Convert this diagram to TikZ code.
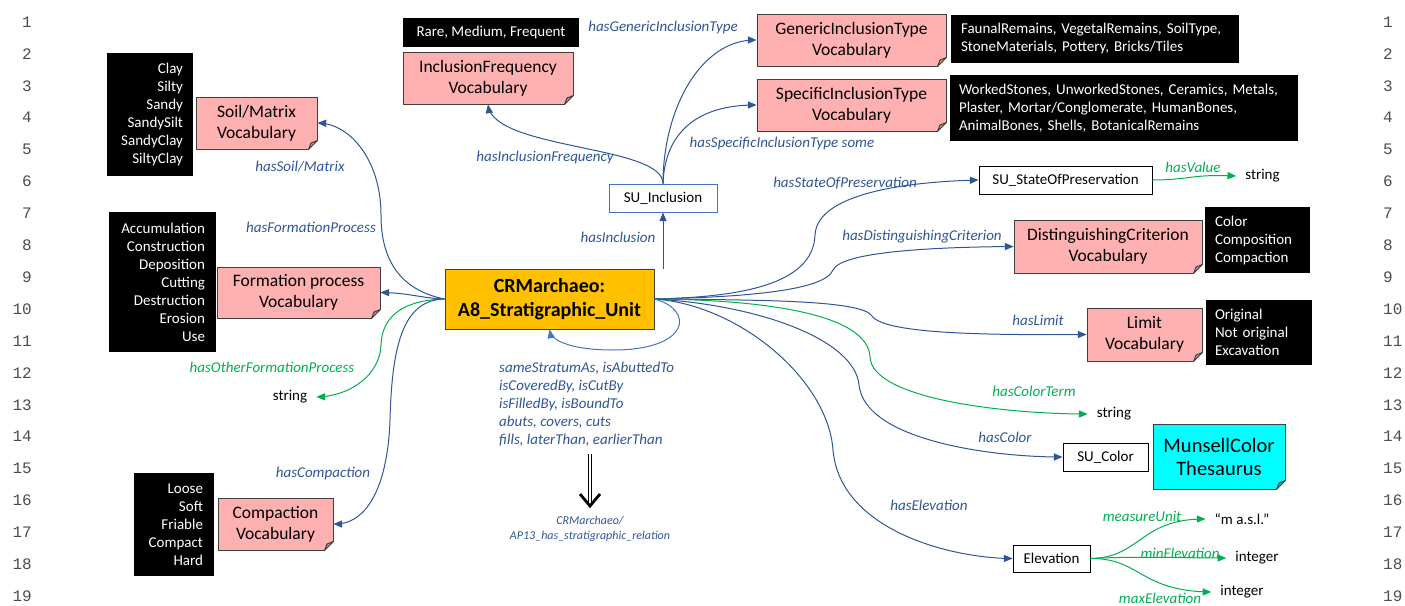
\documentclass[tikz,border=0pt]{standalone}
\usepackage{fontspec}
\setmainfont{Carlito}
\newfontfamily\linenofont{Liberation Mono}
\usepackage{color}
\usepackage{tikz}
\usetikzlibrary{arrows}

\definecolor{vocabpink}{RGB}{255,176,176}
\definecolor{foldpink}{RGB}{205,140,140}
\definecolor{unitorange}{RGB}{255,192,0}
\definecolor{propblue}{RGB}{47,85,151}
\definecolor{loopblue}{RGB}{68,114,196}
\definecolor{datagreen}{RGB}{0,176,80}
\definecolor{thescyan}{RGB}{0,255,255}
\definecolor{foldcyan}{RGB}{0,200,200}

\tikzset{
  vocab/.style={draw=black!75, fill=vocabpink, line width=1pt, align=center, inner sep=0pt,
    font=\fontsize{17.5}{21}\selectfont},
  terms/.style={fill=black, text=white, inner xsep=10pt, inner ysep=0pt,
    font=\fontsize{15}{18}\selectfont},
  classbox/.style={draw=black, fill=white, line width=1pt, inner sep=0pt,
    font=\fontsize{15}{18}\selectfont},
  literal/.style={inner xsep=9pt, inner ysep=2pt, font=\fontsize{15}{18}\selectfont},
  plabel/.style={text=propblue, inner sep=1pt, font=\fontsize{15}{18}\selectfont\itshape},
  dlabel/.style={text=datagreen, inner sep=1pt, font=\fontsize{15}{18}\selectfont\itshape},
  lineno/.style={text=black!70, inner sep=0pt, font=\fontsize{16}{18}\linenofont},
  prop/.style={propblue, line width=1pt, ->},
  dprop/.style={datagreen, line width=1pt, ->},
}

% folded corner of a vocabulary box
\newcommand{\foldcorner}[2]{%
  \fill[white] ([xshift=-9.5pt,yshift=-1pt]#1.south east) -- ([xshift=1pt,yshift=-1pt]#1.south east)
    -- ([xshift=1pt,yshift=9.5pt]#1.south east) -- cycle;
  \draw[black!75, line width=1pt, fill=#2, line join=round] ([xshift=-9pt]#1.south east)
    -- ([yshift=9pt]#1.south east) -- ([xshift=-6.5pt,yshift=6.5pt]#1.south east) -- cycle;
}

\begin{document}
\begin{tikzpicture}[x=1pt,y=-1pt]
\begin{scope}[>=triangle 45]

    \useasboundingbox (0,0) rectangle (1405,605);

    % line numbers
    \foreach \n in {1,...,19} {
        \node[lineno, anchor=east] (ll\n) at (32,{22+(\n-1)*31.9}) {\n};
        \node[lineno, anchor=west] (rl\n) at (1383,{22+(\n-1)*31.9}) {\n};
    }

    % the unit
    \node[draw=black!75, fill=unitorange, line width=1pt, align=center, inner sep=0pt,
        minimum width=209pt, minimum height=60pt, font=\fontsize{20}{24}\selectfont\bfseries]
        (main) at (549.5,299) {CRMarchaeo:\\A8\_Stratigraphic\_Unit};

    % left side
    \node[vocab, minimum width=121pt, minimum height=52pt] (soilv) at (256.5,123) {Soil/Matrix\\Vocabulary};
    \node[terms, align=right, text width=66pt, minimum height=123pt] (soill) at (150,114.5)
        {Clay\\Silty\\Sandy\\SandySilt\\SandyClay\\SiltyClay};
    \node[vocab, minimum width=163pt, minimum height=51pt] (formv) at (298.5,292.5) {Formation process\\Vocabulary};
    \node[terms, align=right, text width=85pt, inner xsep=11pt, minimum height=140pt] (forml) at (162.5,282)
        {Accumulation\\Construction\\Deposition\\Cutting\\Destruction\\Erosion\\Use};
    \node[literal] (strl) at (290,397) {string};
    \node[vocab, minimum width=115pt, minimum height=52pt] (compv) at (275.5,524) {Compaction\\Vocabulary};
    \node[terms, align=right, text width=58pt, inner xsep=11pt, minimum height=103pt] (compl) at (174,524.5)
        {Loose\\Soft\\Friable\\Compact\\Hard};

    \node[plabel] (lsoil) at (300,167) {hasSoil/Matrix};
    \node[plabel] (lform) at (311,227) {hasFormationProcess};
    \node[dlabel] (lother) at (272,367) {hasOtherFormationProcess};
    \node[plabel] (lcomp) at (323,473) {hasCompaction};

    % inclusions
    \node[terms, align=center, minimum width=176pt, minimum height=29pt] (freql) at (491,32.5) {Rare, Medium, Frequent};
    \node[vocab, minimum width=170pt, minimum height=52pt] (freqv) at (488,78) {InclusionFrequency\\Vocabulary};
    \node[vocab, minimum width=189pt, minimum height=52pt] (genv) at (851.5,40) {GenericInclusionType\\Vocabulary};
    \node[terms, align=left, text width=268pt, minimum height=48pt] (genl) at (1095,39)
        {FaunalRemains, VegetalRemains, SoilType,\\StoneMaterials, Pottery, Bricks/Tiles};
    \node[vocab, minimum width=189pt, minimum height=52pt] (specv) at (851.5,105) {SpecificInclusionType\\Vocabulary};
    \node[terms, align=left, text width=330pt, inner xsep=9pt, minimum height=66pt] (specl) at (1124,108)
        {WorkedStones, UnworkedStones, Ceramics, Metals,\\Plaster, Mortar/Conglomerate, HumanBones,\\AnimalBones, Shells, BotanicalRemains};
    \node[classbox, draw=loopblue, minimum width=108pt, minimum height=28pt] (incl) at (663,198) {SU\_Inclusion};

    \node[plabel] (lfreq) at (545,157) {hasInclusionFrequency};
    \node[plabel] (lgen) at (663,28) {hasGenericInclusionType};
    \node[plabel] (lspec) at (782,143) {hasSpecificInclusionType some};
    \node[plabel] (lincl) at (618,237) {hasInclusion};

    % right side
    \node[classbox, minimum width=173pt, minimum height=28pt] (presv) at (1065.5,180) {SU\_StateOfPreservation};
    \node[literal] (strv) at (1262.5,176) {string};
    \node[vocab, minimum width=188pt, minimum height=53pt] (distv) at (1108,246.5) {DistinguishingCriterion\\Vocabulary};
    \node[terms, align=left, text width=85pt, minimum height=66pt] (distl) at (1257.5,240)
        {Color\\Composition\\Compaction};
    \node[vocab, minimum width=115pt, minimum height=53pt] (limv) at (1144.5,334.5) {Limit\\Vocabulary};
    \node[terms, align=left, text width=88pt, inner xsep=9pt, minimum height=65pt] (liml) at (1259,332.5)
        {Original\\Not original\\Excavation};
    \node[literal] (strc) at (1114,414) {string};
    \node[classbox, minimum width=85pt, minimum height=28pt] (colv) at (1105.5,457) {SU\_Color};
    \node[draw=black!75, fill=thescyan, line width=1pt, align=center, inner sep=0pt,
        minimum width=132pt, minimum height=65pt, font=\fontsize{20.5}{23}\selectfont]
        (muns) at (1219,456.5) {MunsellColor\\Thesaurus};
    \node[classbox, minimum width=77pt, minimum height=27pt] (elev) at (1051.5,558.5) {Elevation};
    \node[literal] (masl) at (1242,519) {“m a.s.l.”};
    \node[literal] (intmin) at (1257,558) {integer};
    \node[literal] (intmax) at (1242,592) {integer};

    \node[plabel] (lpres) at (845,183) {hasStateOfPreservation};
    \node[dlabel] (lval) at (1193,167) {hasValue};
    \node[plabel] (ldist) at (922,237) {hasDistinguishingCriterion};
    \node[plabel] (llim) at (1038,320) {hasLimit};
    \node[dlabel] (lcterm) at (1034,391) {hasColorTerm};
    \node[plabel] (lcol) at (1005,437) {hasColor};
    \node[plabel] (lelev) at (929,505) {hasElevation};
    \node[dlabel] (lunit) at (1142,516) {measureUnit};
    \node[dlabel] (lmin) at (1180,553) {minElevation};
    \node[dlabel] (lmax) at (1160,598) {maxElevation};

    % stratigraphic relations
    \node[text=propblue, align=left, anchor=north west, inner sep=0pt,
        font=\fontsize{15}{18}\selectfont\itshape] (rels) at (499,362)
        {sameStratumAs, isAbuttedTo\\isCoveredBy, isCutBy\\isFilledBy, isBoundTo\\abuts, covers, cuts\\fills, laterThan, earlierThan};
    \coordinate (rela) at (590,454);
    \coordinate (relb) at (590,506);
    \node[text=propblue, align=center, inner sep=0pt, font=\fontsize{12}{15}\selectfont\itshape]
        (ap13) at (590,528.5) {CRMarchaeo/\\AP13\_has\_stratigraphic\_relation};

    \foldcorner{soilv}{foldpink}
    \foldcorner{formv}{foldpink}
    \foldcorner{compv}{foldpink}
    \foldcorner{freqv}{foldpink}
    \foldcorner{genv}{foldpink}
    \foldcorner{specv}{foldpink}
    \foldcorner{distv}{foldpink}
    \foldcorner{limv}{foldpink}
    \foldcorner{muns}{foldcyan}

    % connectors, left
    \draw[prop] (main.west) .. controls (400,290) and (381,260) .. (381,215)
        .. controls (381,160) and (350,124) .. (soilv.east);
    \draw[prop] (main.west) .. controls (420,298) and (410,293) .. (formv.east);
    \draw[dprop] (main.west) .. controls (405,300) and (382,315) .. (381,345)
        .. controls (380,375) and (350,396) .. (strl.east);
    \draw[prop] (main.west) .. controls (405,300) and (392,340) .. (390,420)
        .. controls (388,480) and (370,524) .. (compv.east);

    % connectors, inclusion
    \draw[prop] (incl |- main.north) -- (incl.south);
    \draw[prop] (incl.north) .. controls (663,145) and (495,150) .. (freqv.south);
    \draw[prop] (incl.north) .. controls (663,110) and (700,40) .. (genv.west);
    \draw[prop] (incl.north) .. controls (665,130) and (700,105) .. (specv.west);

    % connectors, right
    \draw[prop] (main.east) .. controls (740,297) and (813,285) .. (815,235)
        .. controls (817,195) and (900,182) .. (presv.west);
    \draw[dprop] (presv.east) .. controls (1190,180) and (1190,174) .. (strv.west);
    \draw[prop] (main.east) .. controls (750,297) and (825,290) .. (833,270)
        .. controls (842,250) and (950,247) .. (distv.west);
    \draw[prop] (main.east) .. controls (760,300) and (862,300) .. (872,316)
        .. controls (885,335) and (1000,335) .. (limv.west);
    \draw[dprop] (main.east) .. controls (770,300) and (868,315) .. (870,357)
        .. controls (872,400) and (1010,414) .. (strc.west);
    \draw[prop] (main.east) .. controls (760,305) and (855,340) .. (859,385)
        .. controls (865,440) and (990,457) .. (colv.west);
    \draw[prop] (main.east) .. controls (740,305) and (828,380) .. (833,450)
        .. controls (840,530) and (950,558) .. (elev.west);
    \draw[dprop] (elev.east) .. controls (1140,558) and (1140,519) .. (masl.west);
    \draw[dprop] (elev.east) .. controls (1140,556) and (1180,558) .. (intmin.west);
    \draw[dprop] (elev.east) .. controls (1140,558) and (1140,591) .. (intmax.west);

    % self loop and relation arrow
    \draw[loopblue, line width=1pt, ->] (main.east) .. controls (695,310) and (690,350) .. (613,350)
        .. controls (575,350) and (552,342) .. (main.south);
    \draw[black, line width=0.8pt, double, double distance=2.5pt] (rela) -- (relb);
    \draw[black, line width=2.8pt] ([xshift=-10pt,yshift=12pt]relb) -- (relb) -- ([xshift=10pt,yshift=12pt]relb);

\end{scope}
\end{tikzpicture}
\end{document}
